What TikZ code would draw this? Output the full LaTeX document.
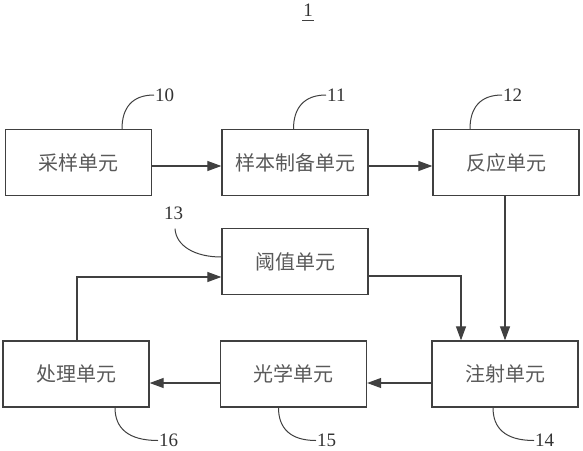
\documentclass[tikz,border=0pt]{standalone}
\usepackage{fontspec}
\setmainfont{Liberation Serif}
\newfontfamily\cjk{Noto Sans CJK SC}
\usetikzlibrary{arrows.meta}
\begin{document}
\begin{tikzpicture}[x=1pt,y=-1pt,
  unit/.style={draw=black!75, line width=1.3pt, minimum width=146pt, minimum height=66pt,
    inner sep=0pt, font=\cjk\fontsize{20}{20}\selectfont, text=black!65},
  arr/.style={draw=black!75, line width=1.2pt, -{Triangle[length=14pt,width=10pt]}},
  lead/.style={draw=black!75, line width=1pt},
  lbl/.style={font=\fontsize{19}{19}\selectfont, text=black!80, inner sep=1pt}]
\useasboundingbox (0,0) rectangle (583,450);

% title
\node[lbl] (t1) at (308,10) {1};
\draw[lead] (t1.south west |- 0,20) -- (t1.south east |- 0,20);

% boxes
\node[unit] (b10) at (78.5,162.5) {采样单元};
\node[unit] (b11) at (295,162.5) {样本制备单元};
\node[unit] (b12) at (506,162.5) {反应单元};
\node[unit] (b13) at (295,261.5) {阈值单元};
\node[unit] (b14) at (505,374) {注射单元};
\node[unit] (b15) at (293.5,374) {光学单元};
\node[unit] (b16) at (76,374) {处理单元};

% labels
\node[lbl, anchor=west] (n10) at (154,95) {10};
\node[lbl, anchor=west] (n11) at (326,95) {11};
\node[lbl, anchor=west] (n12) at (502,95) {12};
\node[lbl] (n13) at (173.5,213) {13};
\node[lbl, anchor=west] (n16) at (158,440.5) {16};
\node[lbl, anchor=west] (n15) at (316,440.5) {15};
\node[lbl, anchor=west] (n14) at (534,440.5) {14};

% connectors
\draw[arr] (b10.east |- 0,166) -- (b11.west |- 0,166);
\draw[arr] (b11.east |- 0,166) -- (b12.west |- 0,166);
\draw[arr] (b12.south -| 505,0) -- (b14.north -| 505,0);
\draw[arr] (b13.east |- 0,276) -| (b14.north -| 461,0);
\draw[arr] (b14.west |- 0,383) -- (b15.east |- 0,383);
\draw[arr] (b15.west |- 0,383) -- (b16.east |- 0,383);
\draw[arr] (b16.north -| 77,0) |- (b13.west |- 0,277);

% leader lines
\draw[lead] (b10.north -| 122,0) .. controls (122,108) and (132,95) .. (n10.west);
\draw[lead] (b11.north -| 293.5,0) .. controls (293.5,108) and (304,95) .. (n11.west);
\draw[lead] (b12.north -| 470,0) .. controls (470,108) and (480,95) .. (n12.west);
\draw[lead] ([shift={(1.5,8)}]n13.south) .. controls (176,246) and (195,257) .. (b13.west |- 0,257);
\draw[lead] (b16.south -| 115,0) .. controls (115,428) and (128,440.5) .. (n16.west);
\draw[lead] (b15.south -| 278.5,0) .. controls (278.5,428) and (290,440.5) .. (n15.west);
\draw[lead] (b14.south -| 493,0) .. controls (493,428) and (505,440.5) .. (n14.west);
\end{tikzpicture}
\end{document}
